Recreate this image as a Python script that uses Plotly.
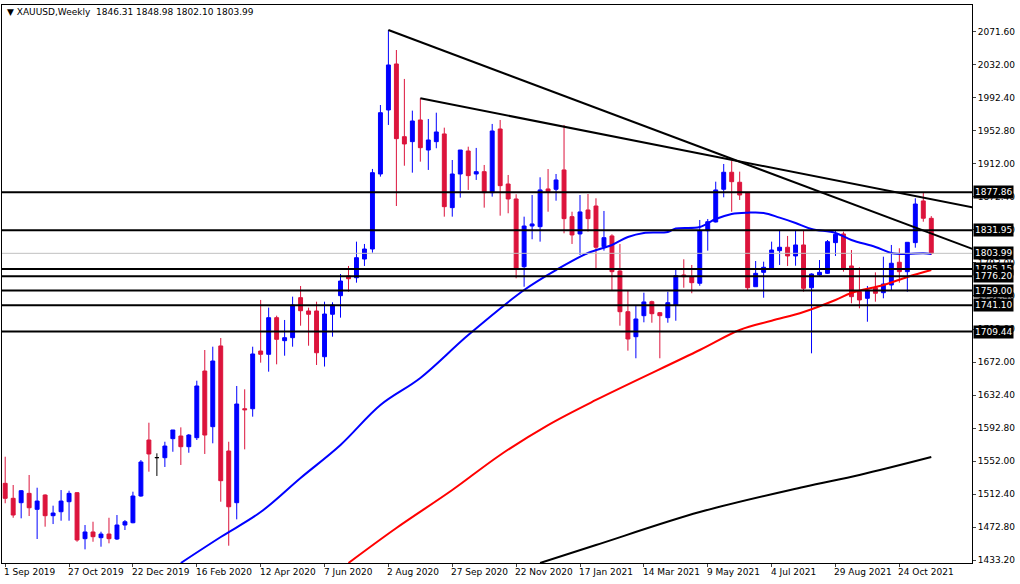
import plotly.graph_objects as go

# Weekly OHLC, candle 0 = week of 1 Sep 2019
opens = [1525.9,1507.8,1502.5,1513.8,1494.5,1511.8,1486.8,1491.6,1503.7,1514.6,
         1459.0,1467.1,1460.2,1464.6,1458.6,1475.5,1478.3,1510.6,1578.3,1557.0,
         1556.9,1579.9,1583.1,1570.2,1581.1,1661.7,1594.4,1692.0,1565.0,1502.5,
         1616.1,1616.1,1685.9,1681.9,1726.2,1698.4,1702.0,1750.4,1734.3,1734.3,
         1679.0,1730.3,1752.8,1776.6,1774.5,1797.1,1809.2,1899.9,1977.3,2032.9,
         1945.0,1939.0,1965.2,1928.9,1939.0,1948.3,1859.2,1899.9,1927.7,1899.9,
         1902.7,1877.3,1954.3,1887.8,1869.7,1787.8,1837.0,1836.2,1881.8,1881.4,
         1904.8,1848.3,1827.4,1856.4,1861.2,1812.0,1825.0,1782.6,1733.4,1703.2,
         1728.6,1745.5,1732.2,1726.2,1741.5,1777.8,1775.7,1767.8,1831.3,1841.9,
         1881.4,1902.0,1889.9,1877.3,1763.6,1781.0,1785.9,1807.2,1811.3,1800.8,
         1814.1,1762.4,1777.8,1779.8,1816.9,1827.4,1788.7,1757.6,1749.6,1762.4,
         1756.4,1765.7,1793.2,1781.8,1816.9,1867.3,1846.31]
highs = [1558.1,1523.9,1517.8,1536.0,1520.6,1512.6,1498.9,1517.8,1517.0,1515.4,
         1475.5,1479.5,1467.4,1484.3,1487.6,1481.6,1515.8,1554.1,1599.2,1562.2,
         1576.2,1590.4,1593.6,1585.5,1650.0,1687.1,1691.1,1701.6,1576.2,1643.6,
         1639.6,1691.1,1747.6,1738.3,1728.6,1723.4,1751.6,1764.5,1738.3,1745.5,
         1745.5,1744.8,1779.0,1788.7,1818.1,1815.3,1906.0,1983.3,2074.0,2049.8,
         2014.8,1976.5,1991.4,1966.4,1974.0,1955.9,1916.8,1928.9,1932.9,1931.4,
         1910.8,1960.4,1965.2,1898.7,1875.4,1848.3,1874.5,1895.9,1905.9,1899.9,
         1959.2,1854.3,1874.5,1875.7,1870.5,1855.2,1827.0,1815.3,1759.6,1740.7,
         1756.4,1746.7,1733.1,1757.6,1783.8,1796.8,1789.9,1844.3,1845.5,1890.6,
         1912.0,1916.0,1902.7,1877.3,1794.7,1793.9,1818.1,1832.2,1825.0,1831.4,
         1831.0,1779.8,1795.9,1820.1,1832.2,1830.2,1808.0,1787.1,1764.5,1781.0,
         1799.9,1814.1,1810.1,1817.3,1870.5,1877.3,1848.98]
lows = [1501.8,1484.3,1483.6,1486.4,1458.6,1473.5,1476.7,1480.7,1480.7,1455.3,
        1446.1,1455.3,1449.3,1453.4,1457.4,1469.5,1477.6,1509.7,1540.0,1534.8,
        1545.7,1564.1,1548.1,1562.9,1578.3,1561.4,1574.3,1503.7,1450.5,1482.4,
        1567.0,1606.5,1671.8,1660.9,1669.8,1680.2,1691.1,1716.5,1692.3,1669.0,
        1667.1,1703.2,1726.2,1757.6,1768.5,1788.7,1804.8,1896.7,1959.2,1861.2,
        1909.9,1901.5,1914.8,1904.8,1931.0,1848.3,1848.3,1871.3,1880.6,1892.7,
        1859.2,1872.5,1849.5,1852.4,1773.8,1763.6,1821.0,1818.1,1854.3,1867.6,
        1828.2,1815.3,1802.0,1830.2,1783.8,1807.2,1759.6,1716.5,1686.3,1677.1,
        1720.6,1720.1,1677.1,1720.1,1722.5,1762.4,1755.7,1764.8,1807.2,1841.3,
        1871.7,1854.3,1868.5,1759.6,1763.6,1750.3,1783.8,1789.9,1788.7,1789.0,
        1757.6,1683.1,1776.6,1779.0,1800.8,1781.8,1743.6,1737.5,1721.3,1745.5,
        1749.6,1759.6,1768.5,1757.6,1810.8,1842.2,1802.10]
closes = [1507.8,1487.6,1517.0,1496.4,1504.5,1486.8,1490.0,1504.5,1513.8,1457.4,
          1467.1,1461.4,1464.6,1459.0,1475.5,1479.5,1510.6,1551.7,1561.4,1557.0,
          1571.0,1590.4,1570.2,1584.3,1643.6,1584.3,1673.8,1529.1,1497.6,1621.8,
          1614.9,1682.3,1681.9,1726.2,1700.0,1702.0,1741.5,1734.6,1730.3,1683.8,
          1730.6,1741.5,1770.5,1773.3,1798.7,1809.2,1901.5,1974.0,2031.7,1942.6,
          1936.2,1964.0,1931.7,1941.0,1950.7,1860.4,1899.9,1928.9,1897.9,1902.7,
          1877.3,1951.9,1885.8,1869.7,1785.1,1837.0,1839.5,1880.6,1878.5,1892.7,
          1845.9,1826.2,1854.0,1845.9,1811.3,1822.9,1781.8,1733.4,1700.4,1724.6,
          1745.2,1731.0,1728.6,1744.3,1777.0,1775.7,1768.5,1831.3,1842.2,1880.6,
          1902.0,1890.6,1874.5,1762.4,1779.8,1787.1,1808.0,1811.3,1800.8,1814.1,
          1761.7,1779.0,1781.0,1818.1,1827.0,1785.9,1751.6,1747.6,1759.6,1755.7,
          1766.9,1792.0,1781.8,1817.3,1863.6,1846.4,1803.99]
doji_index = 19

date_tick_idx = [0,8,16,24,32,40,48,56,64,72,80,88,96,104,112]
date_tick_text = ["1 Sep 2019","27 Oct 2019","22 Dec 2019","16 Feb 2020","12 Apr 2020",
                  "7 Jun 2020","2 Aug 2020","27 Sep 2020","22 Nov 2020","17 Jan 2021",
                  "14 Mar 2021","9 May 2021","4 Jul 2021","29 Aug 2021","24 Oct 2021"]

price_tick_vals = [2071.6-39.9*k for k in range(17)]
price_tick_text = ["2071.60","2032.00","1992.40","1952.80","1912.00","1872.40","1832.80",
                   "1793.00","1752.40","1712.80","1672.00","1632.40","1592.80","1552.00",
                   "1512.40","1472.80","1433.20"]

# moving averages (index, value)
ma50_idx = [22,27,32,37,42,47,52,58,65,69,73,76,78,80,83,84,87,89,91,93,95,97,99,101,104,106,109,111,113,115,116]
ma50_val = [1429.6,1461.0,1491.2,1532.4,1572.3,1620.6,1653.3,1705.2,1759.6,1783.8,1804.4,1814.1,
            1823.7,1828.6,1829.8,1834.0,1835.8,1845.5,1851.6,1853.1,1852.8,1847.1,1840.7,1833.4,
            1828.6,1820.1,1811.7,1804.4,1803.2,1804.0,1803.2]
ma100_idx = [43,49,56,62,68,74,87,92,96,100,104,106,110,113,116]
ma100_val = [1429.6,1471.9,1517.8,1560.2,1596.4,1626.7,1687.1,1711.3,1722.5,1733.1,1747.6,
             1756.0,1765.7,1775.4,1783.8]
ma200_idx = [67,74,87,100,107,116]
ma200_val = [1429.6,1451.3,1491.2,1521.5,1536.0,1557.7]

trend1_idx = [48,121.5]; trend1_val = [2074.0,1808.0]
trend2_idx = [52,121.5]; trend2_val = [1991.4,1858.8]

levels = [1877.86,1831.95,1785.15,1776.20,1759.00,1741.10,1709.44]
bid = 1803.99

FONT = "DejaVu Sans"
n = len(opens)
xs = list(range(n))
mo = [None if i == doji_index else v for i, v in enumerate(opens)]
fig = go.Figure()
fig.add_trace(go.Candlestick(x=xs, open=mo, high=highs, low=lows, close=closes,
    increasing=dict(line=dict(color="#0000ff", width=1), fillcolor="#0000ff"),
    decreasing=dict(line=dict(color="#dc143c", width=1), fillcolor="#dc143c"),
    whiskerwidth=0, showlegend=False, hoverinfo="skip"))
fig.add_trace(go.Candlestick(x=[doji_index], open=[opens[doji_index]], high=[highs[doji_index]],
    low=[lows[doji_index]], close=[closes[doji_index]],
    increasing=dict(line=dict(color="black", width=1), fillcolor="black"),
    decreasing=dict(line=dict(color="black", width=1), fillcolor="black"),
    showlegend=False, hoverinfo="skip"))
for ix, vv, col in [(ma50_idx, ma50_val, "#0000ff"), (ma100_idx, ma100_val, "#ff0000"),
                    (ma200_idx, ma200_val, "black")]:
    fig.add_trace(go.Scatter(x=ix, y=vv, mode="lines", line=dict(color=col, width=2, shape="spline"),
                             showlegend=False, hoverinfo="skip"))
for ix, vv in [(trend1_idx, trend1_val), (trend2_idx, trend2_val)]:
    fig.add_trace(go.Scatter(x=ix, y=vv, mode="lines", line=dict(color="black", width=2),
                             showlegend=False, hoverinfo="skip"))

fig.add_shape(type="line", xref="paper", x0=0, x1=1, y0=bid, y1=bid, line=dict(color="#c0c0c0", width=1))
for lv in levels:
    fig.add_shape(type="line", xref="paper", x0=0, x1=1, y0=lv, y1=lv, line=dict(color="black", width=2))
for lv in levels + [bid]:
    fig.add_annotation(xref="paper", x=1.0, xanchor="left", y=lv, yanchor="middle", text=f"{lv:.2f}",
                       showarrow=False, bgcolor="black", font=dict(color="white", size=9, family=FONT),
                       borderpad=1, xshift=1)
for ix, tx in zip(date_tick_idx, date_tick_text):
    fig.add_annotation(x=ix, yref="paper", y=0, yanchor="top", xanchor="left", text=tx,
                       showarrow=False, yshift=-2, xshift=-3,
                       font=dict(color="black", size=9, family=FONT))
fig.add_annotation(xref="paper", yref="paper", x=0.003, y=1.0, xanchor="left", yanchor="top",
                   text="▼ XAUUSD,Weekly  1846.31 1848.98 1802.10 1803.99", showarrow=False,
                   font=dict(color="black", size=9, family=FONT))

fig.update_layout(width=1020, height=584, margin=dict(l=2, r=48, t=5, b=21),
                  paper_bgcolor="white", plot_bgcolor="white",
                  font=dict(family=FONT, size=9, color="black"))
fig.update_xaxes(range=[-0.4, 121.1], rangeslider_visible=False, showgrid=False, zeroline=False,
                 tickvals=date_tick_idx, ticktext=["" for _ in date_tick_idx], ticks="outside", ticklen=3,
                 showline=True, linecolor="black", mirror=True)
fig.update_yaxes(range=[1429.6, 2104.2], side="right", showgrid=False, zeroline=False,
                 tickvals=price_tick_vals, ticktext=price_tick_text, ticks="outside", ticklen=3,
                 showline=True, linecolor="black", mirror=True, tickfont=dict(size=9))
fig.write_html("out.html", config={"displayModeBar": False},
               post_script="document.body.style.margin='0';document.body.style.overflow='hidden';")
